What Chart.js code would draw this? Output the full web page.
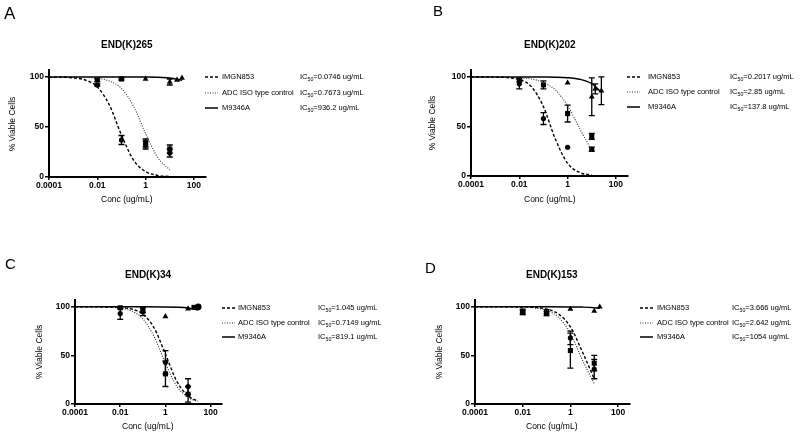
<!DOCTYPE html>
<html>
<head>
<meta charset="utf-8">
<script src="https://cdn.jsdelivr.net/npm/chart.js@4.4.0/dist/chart.umd.min.js"></script>
<style>
  body { margin:0; width:800px; height:435px; background:#fff; position:relative; overflow:hidden;
         font-family:"Liberation Sans", Arial, sans-serif; color:#000; filter:grayscale(100%); }
  canvas { position:absolute; }
  .t { position:absolute; white-space:nowrap; line-height:1; }
  sub { font-size:0.7em; vertical-align:-0.3em; line-height:0; }
  svg { position:absolute; }
</style>
</head>
<body>
<script>
// ---- shared labels ----
const seriesNames = ["IMGN853", "ADC ISO type control", "M9346A"];
const panelLetters = ["A", "B", "C", "D"];
const panelTitles = ["END(K)265", "END(K)202", "END(K)34", "END(K)153"];
const ic50Labels = [
  ["0.0746", "0.7673", "936.2"],
  ["0.2017", "2.85", "137.8"],
  ["1.045", "0.7149", "819.1"],
  ["3.666", "2.642", "1054"]
];
const xTicks = [0.0001, 0.01, 1, 100];
const xTickLabels = ["0.0001", "0.01", "1", "100"];
const yTicks = [0, 50, 100];
const xTitle = "Conc (ug/mL)";
const yTitle = "% Viable Cells";

// fitted curves
const curveConc = [0.0001, 0.000316, 0.001, 0.00316, 0.01, 0.0316, 0.1, 0.316, 1, 3.16, 10];
const curveConcC = [0.0001, 0.000316, 0.001, 0.00316, 0.01, 0.0316, 0.1, 0.316, 1, 3.16, 10, 27];

// ---- panel A : END(K)265 ----
const aConc = [0.01, 0.1, 1, 10];
const aImgn = [92, 37, 32, 24];
const aImgnErr = [1, 4.5, 4, 4];
const aIso = [97, 98, 34, 28];
const aIsoErr = [1.5, 1, 4, 4];
const aM9Conc = [1, 10, 20, 32];
const aM9 = [98, 95, 97, 99];
const aM9Err = [0, 3, 0, 0];
const aImgnCurve = [99.9, 99.8, 99.1, 97.0, 90.1, 72.0, 42.0, 16.9, 5.4, 1.6, 0.5];
const aIsoCurve = [100, 100, 99.9, 99.6, 98.7, 96.0, 88.5, 70.8, 43.4, 19.5, 7.1];
const aM9CurveConc = [0.0001, 0.01, 0.1, 1, 3.16, 10, 32];
const aM9Curve = [100, 100, 100, 99.9, 99.7, 98.9, 96.7];

// ---- panel B : END(K)202 ----
const bConc = [0.01, 0.1, 1, 10];
const bImgn = [93, 58, 29, 27];
const bImgnErr = [5, 6, 0, 2];
const bIso = [97, 92, 63, 40];
const bIsoErr = [2, 4, 8.5, 3];
const bM9Conc = [1, 10, 14, 25];
const bM9 = [94, 80, 88, 86];
const bM9Err = [0, 19, 5, 14];
const bImgnCurve = [100, 100, 99.8, 99.3, 97.4, 90.2, 69.9, 36.8, 12.8, 3.5, 0.9];
const bIsoCurve = [100, 100, 99.9, 99.7, 99.2, 97.9, 94.5, 86.6, 70.9, 47.8, 25.6];
const bM9CurveConc = [0.0001, 0.01, 0.1, 0.316, 1, 3.16, 10, 25];
const bM9Curve = [100, 100, 99.9, 99.8, 99.3, 97.7, 93.2, 84.6];

// ---- panel C : END(K)34 ----
const cConc = [0.01, 0.1, 1, 10];
const cImgn = [93, 95, 43, 18];
const cImgnErr = [6, 4, 12, 8];
const cIso = [99, 97, 31, 10];
const cIsoErr = [1, 3, 13, 8];
const cM9Conc = [1, 10, 18, 28];
const cM9 = [90, 98, 99.5, 100];
const cM9Err = [0, 0, 0, 0];
const cM9Shapes = ["triangle", "triangle", "rect", "circle"];
const cImgnCurve = [100, 100, 99.9, 99.8, 99.3, 97.7, 92.5, 78.2, 51.2, 23.4, 8.2, 3.0];
const cIsoCurve = [100, 100, 99.9, 99.6, 98.6, 95.8, 87.7, 69.3, 41.7, 18.4, 6.7, 2.8];
const cM9CurveConc = [0.0001, 0.01, 0.1, 1, 3.16, 10, 28];
const cM9Curve = [100, 100, 100, 99.9, 99.6, 98.8, 96.7];

// ---- panel D : END(K)153 ----
const dConc = [0.01, 0.1, 1, 10];
const dImgn = [95.5, 95, 68, 36];
const dImgnErr = [2, 2, 7, 10];
const dIso = [94, 93, 55, 42];
const dIsoErr = [2, 2, 18, 8];
const dM9Conc = [1, 10, 17];
const dM9 = [97.6, 95.6, 100];
const dM9Err = [0, 0, 0];
const dImgnCurve = [100, 100, 100, 99.9, 99.8, 99.3, 97.7, 92.7, 79.4, 53.8, 26.0];
const dIsoCurve = [100, 100, 100, 99.9, 99.6, 98.8, 96.4, 89.3, 72.6, 45.5, 20.9];
const dM9CurveConc = [0.0001, 0.01, 0.1, 1, 3.16, 10, 17];
const dM9Curve = [100, 100, 100, 99.9, 99.7, 99.1, 98.4];

const panelData = [
  { curves: [[curveConc, aImgnCurve], [curveConc, aIsoCurve], [aM9CurveConc, aM9Curve]],
    points: [[aConc, aImgn, aImgnErr], [aConc, aIso, aIsoErr], [aM9Conc, aM9, aM9Err]] },
  { curves: [[curveConc, bImgnCurve], [curveConc, bIsoCurve], [bM9CurveConc, bM9Curve]],
    points: [[bConc, bImgn, bImgnErr], [bConc, bIso, bIsoErr], [bM9Conc, bM9, bM9Err]] },
  { curves: [[curveConcC, cImgnCurve], [curveConcC, cIsoCurve], [cM9CurveConc, cM9Curve]],
    points: [[cConc, cImgn, cImgnErr], [cConc, cIso, cIsoErr], [cM9Conc, cM9, cM9Err, cM9Shapes]] },
  { curves: [[curveConc, dImgnCurve], [curveConc, dIsoCurve], [dM9CurveConc, dM9Curve]],
    points: [[dConc, dImgn, dImgnErr], [dConc, dIso, dIsoErr], [dM9Conc, dM9, dM9Err]] }
];

// ---- layout (pixel placement of each panel) ----
const layouts = [
  { axisX: 48.5, dec: 24.2, y0: 177, y100: 77.3, letter: [4, 7, 17], title: 45, xTitleY: 199, yTitleX: 13,
    legX: 205, nameX: 222, icX: 300, rows: [77, 93, 108] },
  { axisX: 471, dec: 24.2, y0: 176, y100: 77, letter: [433, 5, 15], title: 45, xTitleY: 199, yTitleX: 433,
    legX: 627, nameX: 648, icX: 730, rows: [77, 92, 107] },
  { axisX: 74.5, dec: 22.6, y0: 404, y100: 306.7, letter: [5, 258, 15], title: 275, xTitleY: 426, yTitleX: 40,
    legX: 222, nameX: 238, icX: 318, rows: [308, 323, 337] },
  { axisX: 474.5, dec: 23.9, y0: 404, y100: 306.7, letter: [425, 262, 15], title: 275, xTitleY: 426, yTitleX: 440,
    legX: 640, nameX: 657, icX: 732, rows: [308, 323, 337] }
];

const lineStyles = [
  { dash: [3, 2], width: 1.4, color: "#000" },
  { dash: [1, 1.5], width: 1.1, color: "#333" },
  { dash: [], width: 1.5, color: "#000" }
];
const markers = ["circle", "rect", "triangle"];
const markerSize = [2.6, 3.6, 3.4];

const errorBars = {
  id: "errorBars",
  beforeDatasetsDraw(chart) {
    const { ctx, scales: { x, y } } = chart;
    ctx.save();
    ctx.strokeStyle = "#000";
    ctx.lineWidth = 1.3;
    chart.data.datasets.forEach((ds) => {
      if (!ds.errors) return;
      ds.data.forEach((p, j) => {
        const e = ds.errors[j];
        if (!e) return;
        const px = x.getPixelForValue(p.x);
        const top = y.getPixelForValue(p.y + e);
        const bot = y.getPixelForValue(p.y - e);
        ctx.beginPath();
        ctx.moveTo(px, top); ctx.lineTo(px, bot);
        ctx.moveTo(px - 3, top); ctx.lineTo(px + 3, top);
        ctx.moveTo(px - 3, bot); ctx.lineTo(px + 3, bot);
        ctx.stroke();
      });
    });
    ctx.restore();
  }
};

// place a text so that its box is centred (or left-aligned) on whole pixels
function addText(html, x, y, opts) {
  const d = document.createElement("div");
  d.className = "t";
  d.innerHTML = html;
  d.style.fontSize = (opts.size || 8) + "px";
  if (opts.bold) d.style.fontWeight = "bold";
  document.body.appendChild(d);
  let w = d.offsetWidth, h = d.offsetHeight;
  if (opts.rotate) {
    // even box sizes keep the rotated glyphs on whole pixels
    w = Math.ceil(w / 2) * 2 + 2;
    h = Math.ceil(h / 2) * 2;
    d.style.width = w + "px";
    d.style.height = h + "px";
    d.style.textAlign = "center";
  }
  const lx = opts.center ? x - w / 2 : x;
  const ty = opts.top ? y : y - h / 2;
  d.style.left = Math.round(lx) + "px";
  d.style.top = Math.round(ty) + "px";
  if (opts.rotate) d.style.transform = "rotate(-90deg)";
}

function drawPanel(i) {
  const L = layouts[i];
  const P = panelData[i];
  const plotW = Math.round(6.5 * L.dec);
  const plotH = Math.round((L.y0 - L.y100) * 1.07);
  const left = Math.round(L.axisX) - 45;
  const top = Math.round(L.y0) - plotH - 10;
  const cv = document.createElement("canvas");
  cv.width = 45 + plotW + 8;
  cv.height = 10 + plotH + 26;
  cv.style.left = left + "px";
  cv.style.top = top + "px";
  document.body.appendChild(cv);

  const datasets = [];
  P.curves.forEach(([conc, vals], k) => {
    datasets.push({
      data: conc.map((c, j) => ({ x: c, y: vals[j] })),
      showLine: true,
      borderColor: lineStyles[k].color,
      borderWidth: lineStyles[k].width,
      borderDash: lineStyles[k].dash,
      pointRadius: 0,
      cubicInterpolationMode: "monotone",
      fill: false
    });
  });
  P.points.forEach(([conc, vals, errs, shapes], k) => {
    datasets.push({
      data: conc.map((c, j) => ({ x: c, y: vals[j] })),
      errors: errs,
      showLine: false,
      pointStyle: shapes || markers[k],
      pointRadius: markerSize[k],
      backgroundColor: "#000",
      borderColor: "#000",
      borderWidth: 0
    });
  });

  const tickFont = { family: "Liberation Sans", size: 8.5, weight: "bold" };
  new Chart(cv, {
    type: "line",
    data: { datasets },
    plugins: [errorBars],
    options: {
      responsive: false,
      animation: false,
      events: [],
      layout: { padding: { left: 0, top: 10, right: 8, bottom: 0 } },
      plugins: { legend: { display: false }, tooltip: { enabled: false } },
      scales: {
        x: {
          type: "logarithmic",
          min: 0.0001,
          max: 316.2,
          afterFit: (s) => { s.height = 26; },
          afterBuildTicks: (s) => { s.ticks = xTicks.map((v) => ({ value: v, major: true })); },
          ticks: { autoSkip: false, maxRotation: 0, minRotation: 0, padding: 1, color: "#000", font: tickFont,
                   callback: (v, idx) => xTickLabels[idx] },
          grid: { drawOnChartArea: false, drawTicks: true, tickLength: 3, color: "#000", lineWidth: 1.5 },
          border: { display: true, color: "#000", width: 2 }
        },
        y: {
          min: 0,
          max: 107,
          afterFit: (s) => { s.width = 45; },
          afterBuildTicks: (s) => { s.ticks = yTicks.map((v) => ({ value: v })); },
          ticks: { padding: 1, color: "#000", font: tickFont },
          grid: { drawOnChartArea: false, drawTicks: true, tickLength: 4, color: "#000", lineWidth: 1.5 },
          border: { display: true, color: "#000", width: 2 }
        }
      }
    }
  });

  // texts
  const cx = (L.axisX + L.axisX + 6.5 * L.dec) / 2;
  const midY = (L.y0 + L.y0 - plotH) / 2;
  addText(panelLetters[i], L.letter[0], L.letter[1] - 0.13 * L.letter[2], { size: L.letter[2], top: true });
  addText(panelTitles[i], cx, L.title, { size: 10, bold: true, center: true });
  addText(xTitle, cx, L.xTitleY, { size: 8.5, center: true });
  addText(yTitle, L.yTitleX, midY, { size: 8.5, center: true, rotate: true });
  seriesNames.forEach((name, k) => {
    const ry = L.rows[k];
    const st = lineStyles[k];
    const svg = document.createElementNS("http://www.w3.org/2000/svg", "svg");
    svg.setAttribute("width", "13");
    svg.setAttribute("height", "4");
    svg.style.left = L.legX + "px";
    svg.style.top = (ry - 2) + "px";
    svg.innerHTML = '<line x1="0" y1="2" x2="13" y2="2" stroke="' + st.color + '" stroke-width="' + st.width +
      '" stroke-dasharray="' + (st.dash.length ? st.dash.join(",") : "none") + '"/>';
    document.body.appendChild(svg);
    addText(name, L.nameX, ry, { size: 7.5 });
    addText("IC<sub>50</sub>=" + ic50Labels[i][k] + " ug/mL", L.icX, ry, { size: 7.5 });
  });
}

for (let i = 0; i < 4; i++) drawPanel(i);
</script>
</body>
</html>
